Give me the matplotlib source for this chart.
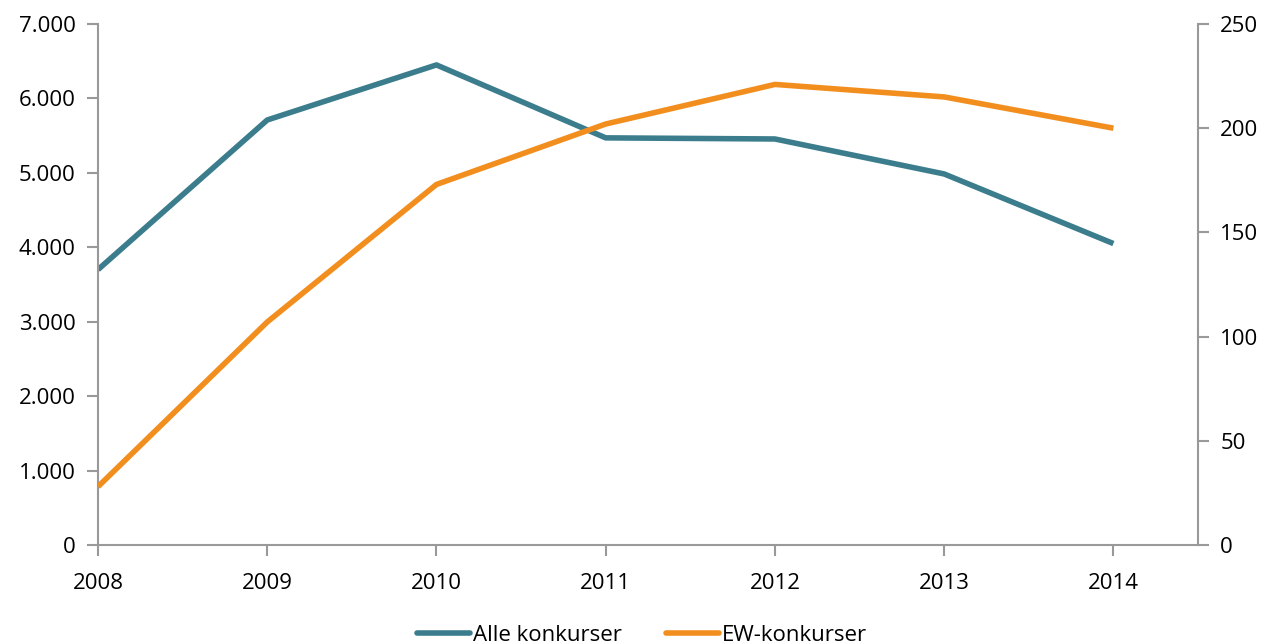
import matplotlib
matplotlib.use("Agg")
import matplotlib.pyplot as plt
from matplotlib.ticker import FuncFormatter

years = [2008, 2009, 2010, 2011, 2012, 2013, 2014]
alle_konkurser = [3700, 5710, 6450, 5470, 5455, 4985, 4050]
ew_konkurser = [28, 107, 173, 202, 221, 215, 200]

teal = "#3B7D8D"
orange = "#F28E1E"
grey = "#999999"

plt.rcParams["font.family"] = ["Open Sans", "DejaVu Sans"]
fs = 16

fig = plt.figure(figsize=(12.66, 6.43), dpi=100)
ax = fig.add_axes([0.0774, 0.1524, 0.8689, 0.8103])
ax2 = ax.twinx()

l1, = ax.plot(years, alle_konkurser, color=teal, lw=4, solid_capstyle="butt",
              label="Alle konkurser")
l2, = ax2.plot(years, ew_konkurser, color=orange, lw=4, solid_capstyle="butt",
               label="EW-konkurser")

ax.set_xlim(2008, 2014.5)
ax.set_ylim(0, 7000)
ax2.set_ylim(0, 250)
ax.set_xticks(years)
ax.set_yticks(range(0, 7001, 1000))
ax2.set_yticks(range(0, 251, 50))
ax.yaxis.set_major_formatter(FuncFormatter(lambda v, p: f"{int(v):,}".replace(",", ".")))

for a in (ax, ax2):
    a.spines["top"].set_visible(False)
    for s in ("left", "right", "bottom"):
        a.spines[s].set_color(grey)
        a.spines[s].set_linewidth(1.5)
    a.tick_params(colors=grey, labelcolor="black", width=1.5, length=8,
                  labelsize=fs)
ax.spines["right"].set_visible(False)
ax2.spines["left"].set_visible(False)
ax2.spines["bottom"].set_visible(False)
ax.tick_params(axis="y", pad=8)
ax2.tick_params(axis="y", pad=8)
ax.tick_params(axis="x", pad=12)

leg = fig.legend(handles=[l1, l2], loc="lower center", bbox_to_anchor=(0.507, -0.035),
                 ncol=2, frameon=False, fontsize=fs, handlelength=2.4,
                 handletextpad=0.1, columnspacing=2.0)
for h in leg.get_lines():
    h.set_solid_capstyle("round")

fig.savefig("out.png", dpi=100)
